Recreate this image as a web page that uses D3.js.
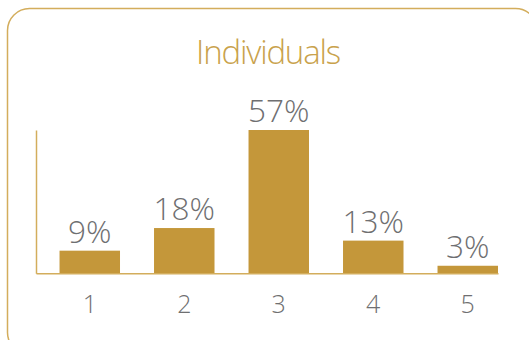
<!DOCTYPE html>
<html>
<head>
<meta charset="utf-8">
<script src="https://cdn.jsdelivr.net/npm/d3@7"></script>
<style>
	body { margin: 0; background: #fff; }
	text { font-family: "Open Sans", sans-serif; font-weight: 300; }
</style>
</head>
<body>
<svg id="chart" width="529" height="340"></svg>
<script>
"use strict";

var title = "Individuals";
var categories = ["1", "2", "3", "4", "5"];
var values = [9, 18, 57, 13, 3];
var valueLabels = ["9%", "18%", "57%", "13%", "3%"];

var gold = "#c4973a";
var lineGold = "#d3ad5c";
var grey = "#6f6f71";

var svg = d3.select("#chart");

// frame, runs off the right and bottom edges
svg.append("rect")
	.attr("x", 7.5).attr("y", 8.5)
	.attr("width", 530).attr("height", 346)
	.attr("rx", 22).attr("ry", 22)
	.attr("fill", "none")
	.attr("stroke", lineGold)
	.attr("stroke-width", 1.5);

svg.append("text")
	.attr("x", 268).attr("y", 63.5)
	.attr("text-anchor", "middle")
	.attr("fill", "#c9a24c")
	.style("font-size", "33px")
	.style("letter-spacing", "-1.2px")
	.text(title);

var x = d3.scaleBand()
	.domain(categories)
	.range([36, 498])
	.paddingInner(0.36)
	.paddingOuter(0.1245)
	.align(1);

var y = d3.scaleLinear()
	.domain([0, 57])
	.range([273.3, 130]);

var g = svg.append("g");

g.selectAll(".bar")
	.data(values)
	.enter().append("rect")
	.attr("class", "bar")
	.attr("x", function(d, i){ return x(categories[i]); })
	.attr("y", function(d){ return y(d); })
	.attr("width", x.bandwidth())
	.attr("height", function(d){ return y(0) - y(d); })
	.attr("fill", gold);

g.selectAll(".lbl")
	.data(values)
	.enter().append("text")
	.attr("class", "lbl")
	.attr("x", function(d, i){ return x(categories[i]) + x.bandwidth()/2; })
	.attr("y", function(d){ return y(d) - 8; })
	.attr("text-anchor", "middle")
	.attr("fill", grey)
	.style("font-size", "31.5px")
	.text(function(d, i){ return valueLabels[i]; });

// axes
var xAxis = d3.axisBottom(x).tickSize(0).tickPadding(0);
var xg = svg.append("g")
	.attr("transform", "translate(0," + y(0) + ")")
	.call(xAxis);
xg.select(".domain").attr("stroke", lineGold).attr("stroke-width", 1.5);
xg.selectAll(".tick text")
	.attr("y", 40)
	.attr("dy", null)
	.attr("fill", grey)
	.style("font-size", "25px")
	.style("font-family", "'Open Sans', sans-serif");

var yAxis = d3.axisLeft(y).ticks(0).tickSize(0);
var yg = svg.append("g")
	.attr("transform", "translate(36,0)")
	.call(yAxis);
yg.select(".domain").attr("stroke", lineGold).attr("stroke-width", 1.5);
</script>
</body>
</html>
